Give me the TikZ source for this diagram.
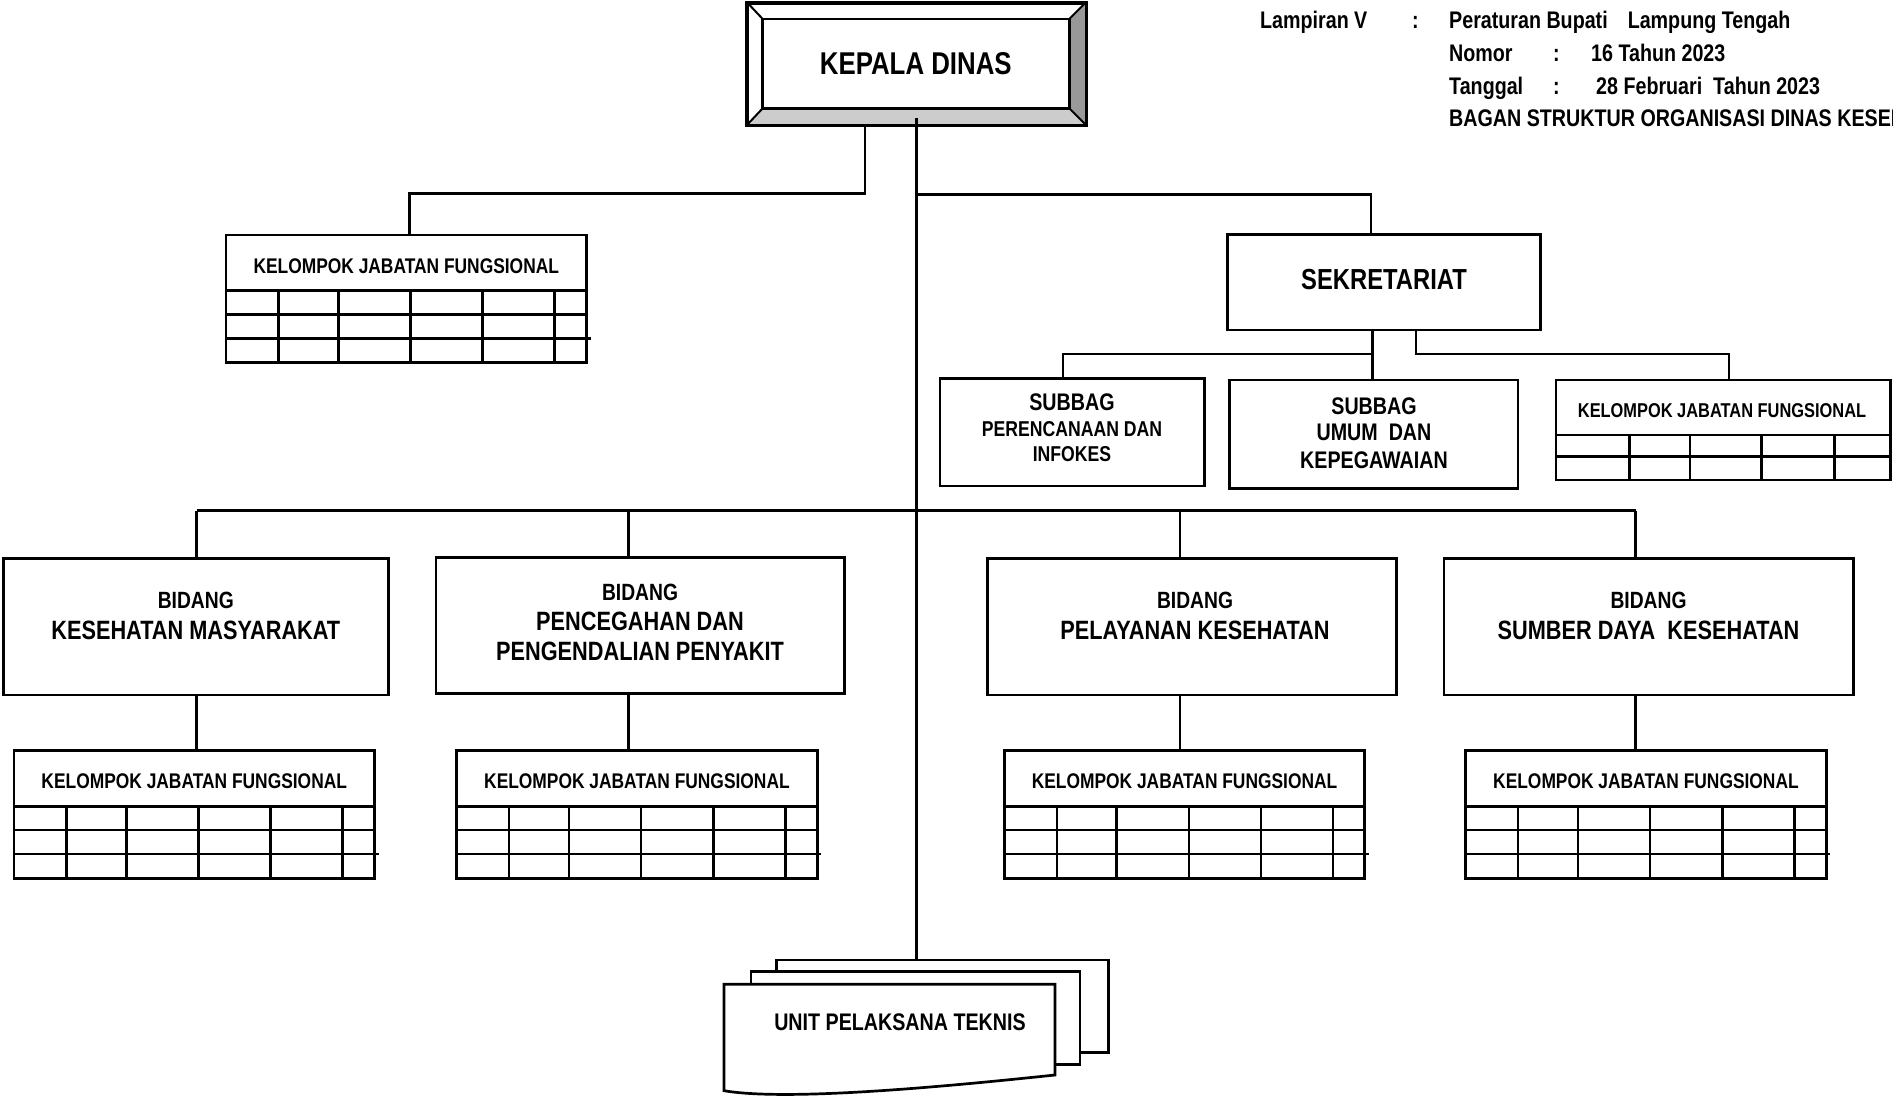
\documentclass[tikz,border=0pt]{standalone}
\usepackage{fontspec}
\setmainfont{Liberation Sans}[FakeStretch=0.82]
\usetikzlibrary{fit,calc}
\newcommand\fz[1]{\fontsize{#1}{#1}\selectfont\bfseries}
\tikzset{
  ln/.style={line width=2.7pt},
  gridln/.style={line width=2.5pt},
  box/.style={draw, line width=2.7pt, fill=white, inner sep=0pt},
  t/.style={inner sep=0pt, anchor=base},
  hd/.style={inner sep=0pt, anchor=base west, font=\fz{24}},
}
% KELOMPOK JABATAN FUNGSIONAL table: #1 name, #2 left x, #3 top y
\newcommand\kjfbox[3]{%
  \node[box, fit={(#2,#3) (#2+360.5,#3+55.5)}] (#1) {};
  \draw[box] (#2,#3+55.5) rectangle (#2+360.5,#3+127.7);
  \draw[gridln] (#2,#3+79.5) -- (#2+360.5,#3+79.5);
  \draw[gridln] (#2,#3+103.5) -- (#2+364.5,#3+103.5);
  \foreach \cc in {52.5,112.3,184.5,256.7,328.7}
    \draw[gridln] (#2+\cc,#3+55.5) -- (#2+\cc,#3+127.7);
  \node[t, font=\fz{21.2}] (#1t) at (#2+180.25,#3+38) {KELOMPOK JABATAN FUNGSIONAL};
}
\begin{document}
\begin{tikzpicture}[x=1pt,y=-1pt]
\useasboundingbox (0,0) rectangle (1893,1097);
\clip (0,0) rectangle (1893,1097);
\fill[white] (0,0) rectangle (1893,1097);

% ---------- header ----------
\node[hd] (h1a) at (1260,29) {Lampiran V};
\node[hd] (h1b) at (1412,29) {:};
\node[hd] (h1c) at (1449,29) {Peraturan Bupati\hspace{20pt}Lampung Tengah};
\node[hd] (h2a) at (1449,61.6) {Nomor};
\node[hd] (h2b) at (1553,61.6) {:};
\node[hd] (h2c) at (1591,61.6) {16 Tahun 2023};
\node[hd] (h3a) at (1449,94.3) {Tanggal};
\node[hd] (h3b) at (1553,94.3) {:};
\node[hd] (h3c) at (1596,94.3) {28 Februari\ \ Tahun 2023};
\node[hd] (h4a) at (1449,127) {BAGAN STRUKTUR ORGANISASI DINAS KESEHATAN};

% ---------- UPT pages (back to front) ----------
\node[box, fit={(776.7,960) (1108.3,1052.7)}] (upt3) {};
\node[box, fit={(751,971.7) (1080,1064.3)}] (upt2) {};
\filldraw[ln, fill=white] (724,984.3) -- (1055,984.3) -- (1055,1075)
  .. controls (960,1085) and (790,1102) .. (724,1090.7) -- cycle;
\node[t, font=\fz{24}] (upt) at (900,1030) {UNIT PELAKSANA TEKNIS};

% ---------- KEPALA DINAS ----------
\node[box, fit={(748,3.3) (1085,124)}] (kepala) {};
\coordinate (ki1) at (762.7,19);
\coordinate (ki2) at (1069.3,108.3);
\fill[black!20] (kepala.south west) -- (kepala.south east) -- (ki2) -- (ki1 |- ki2) -- cycle;
\fill[black!40] (kepala.north east) -- (kepala.south east) -- (ki2) -- (ki2 |- ki1) -- cycle;
\draw[ln] (ki1) rectangle (ki2);
\draw[line width=2pt] (kepala.north west) -- (ki1);
\draw[line width=2pt] (kepala.north east) -- (ki2 |- ki1);
\draw[line width=2pt] (kepala.south west) -- (ki1 |- ki2);
\draw[line width=2pt] (kepala.south east) -- (ki2);
\draw[ln] (kepala.south west) rectangle (kepala.north east);
\node[t, font=\fz{31.5}] (kepalat) at (915.8,74.5) {KEPALA DINAS};

% ---------- main trunk ----------
\draw[ln] ([yshift=7pt]kepala.south) -- (kepala.south |- upt3.north);

% ---------- top-left functional group ----------
\kjfbox{kjftl}{226}{235}
\coordinate (c1) at (865,193.3);
\coordinate (c1b) at (409.3,193.3);
\draw[ln] (c1 |- kepala.south) -- (c1) -- (c1b) -- (c1b |- kjftl.north);

% ---------- SEKRETARIAT ----------
\node[box, fit={(1227.8,234.3) (1540.5,330)}] (sek) {};
\node[t, font=\fz{29}] (sekt) at (1384,289.5) {SEKRETARIAT};
\coordinate (c3) at (1371,194.3);
\draw[ln] (kepala.south |- c3) -- (c3) -- (c3 |- sek.north);

% ---------- SUBBAG ----------
\node[box, fit={(940,378.3) (1204.5,486)}] (sbp) {};
\node[t, font=\fz{24}] (sbp1) at (1072,410.5) {SUBBAG};
\node[t, font=\fz{21.5}] (sbp2) at (1072,436.3) {PERENCANAAN DAN};
\node[t, font=\fz{21.5}] (sbp3) at (1072,461.7) {INFOKES};

\node[box, fit={(1229.8,380) (1518,488.5)}] (sbu) {};
\node[t, font=\fz{24}] (sbu1) at (1374,414.2) {SUBBAG};
\node[t, font=\fz{24}] (sbu2) at (1374,440.8) {UMUM\ \ DAN};
\node[t, font=\fz{24}] (sbu3) at (1374,468.6) {KEPEGAWAIAN};

% right functional group (two rows)
\node[box, fit={(1556,380) (1890.7,435)}] (kjfr) {};
\draw[box] (1556,435) rectangle (1890.7,480);
\draw[gridln] (1556,456.7) -- (1890.7,456.7);
\foreach \cc in {1629.3,1690,1761.7,1834.3}
  \draw[gridln] (\cc,435) -- (\cc,480);
\node[t, font=\fz{20}] (kjfrt) at (1722,417.7) {KELOMPOK JABATAN FUNGSIONAL};

\coordinate (c4) at (1372.6,354);
\coordinate (c5) at (1063,354);
\coordinate (c6) at (1416,354);
\coordinate (c7) at (1729,354);
\draw[ln] (c4 |- sek.south) -- (c4 |- sbu.north);
\draw[ln] (c4) -- (c5) -- (c5 |- sbp.north);
\draw[ln] (c6 |- sek.south) -- (c6) -- (c7) -- (c7 |- kjfr.north);

% ---------- BIDANG ----------
\node[box, fit={(3.3,558.3) (388.3,695)}] (bkm) {};
\node[t, font=\fz{23.5}] (bkm1) at (195.8,608.4) {BIDANG};
\node[t, font=\fz{26.5}] (bkm2) at (195.8,639) {KESEHATAN MASYARAKAT};

\node[box, fit={(436,557.7) (844.3,693.3)}] (bpp) {};
\node[t, font=\fz{23.5}] (bpp1) at (640,600) {BIDANG};
\node[t, font=\fz{26.5}] (bpp2) at (640,630.5) {PENCEGAHAN DAN};
\node[t, font=\fz{26.5}] (bpp3) at (640,660.5) {PENGENDALIAN PENYAKIT};

\node[box, fit={(987.7,558.3) (1396.7,695)}] (bpk) {};
\node[t, font=\fz{23.5}] (bpk1) at (1195,608.4) {BIDANG};
\node[t, font=\fz{26.5}] (bpk2) at (1195,639) {PELAYANAN KESEHATAN};

\node[box, fit={(1444,558.3) (1853.3,695)}] (bsd) {};
\node[t, font=\fz{23.5}] (bsd1) at (1648.5,608.4) {BIDANG};
\node[t, font=\fz{26.5}] (bsd2) at (1648.5,639) {SUMBER DAYA\ \ KESEHATAN};

\coordinate (k1) at (196.7,510.7);
\coordinate (k2) at (628.3,510.7);
\coordinate (k3) at (1180,510.7);
\coordinate (k4) at (1635.7,510.7);
\draw[ln] (k1) -- (k4);
\draw[ln] (k1) -- (k1 |- bkm.north);
\draw[ln] (k2) -- (k2 |- bpp.north);
\draw[ln] (k3) -- (k3 |- bpk.north);
\draw[ln] (k4) -- (k4 |- bsd.north);

% ---------- functional groups under BIDANG ----------
\kjfbox{kjf1}{14}{750.7}
\kjfbox{kjf2}{456.7}{750.7}
\kjfbox{kjf3}{1004.3}{750.7}
\kjfbox{kjf4}{1465.7}{750.7}
\draw[ln] (k1 |- bkm.south) -- (k1 |- kjf1.north);
\draw[ln] (k2 |- bpp.south) -- (k2 |- kjf2.north);
\draw[ln] (k3 |- bpk.south) -- (k3 |- kjf3.north);
\draw[ln] (k4 |- bsd.south) -- (k4 |- kjf4.north);
\end{tikzpicture}
\end{document}
